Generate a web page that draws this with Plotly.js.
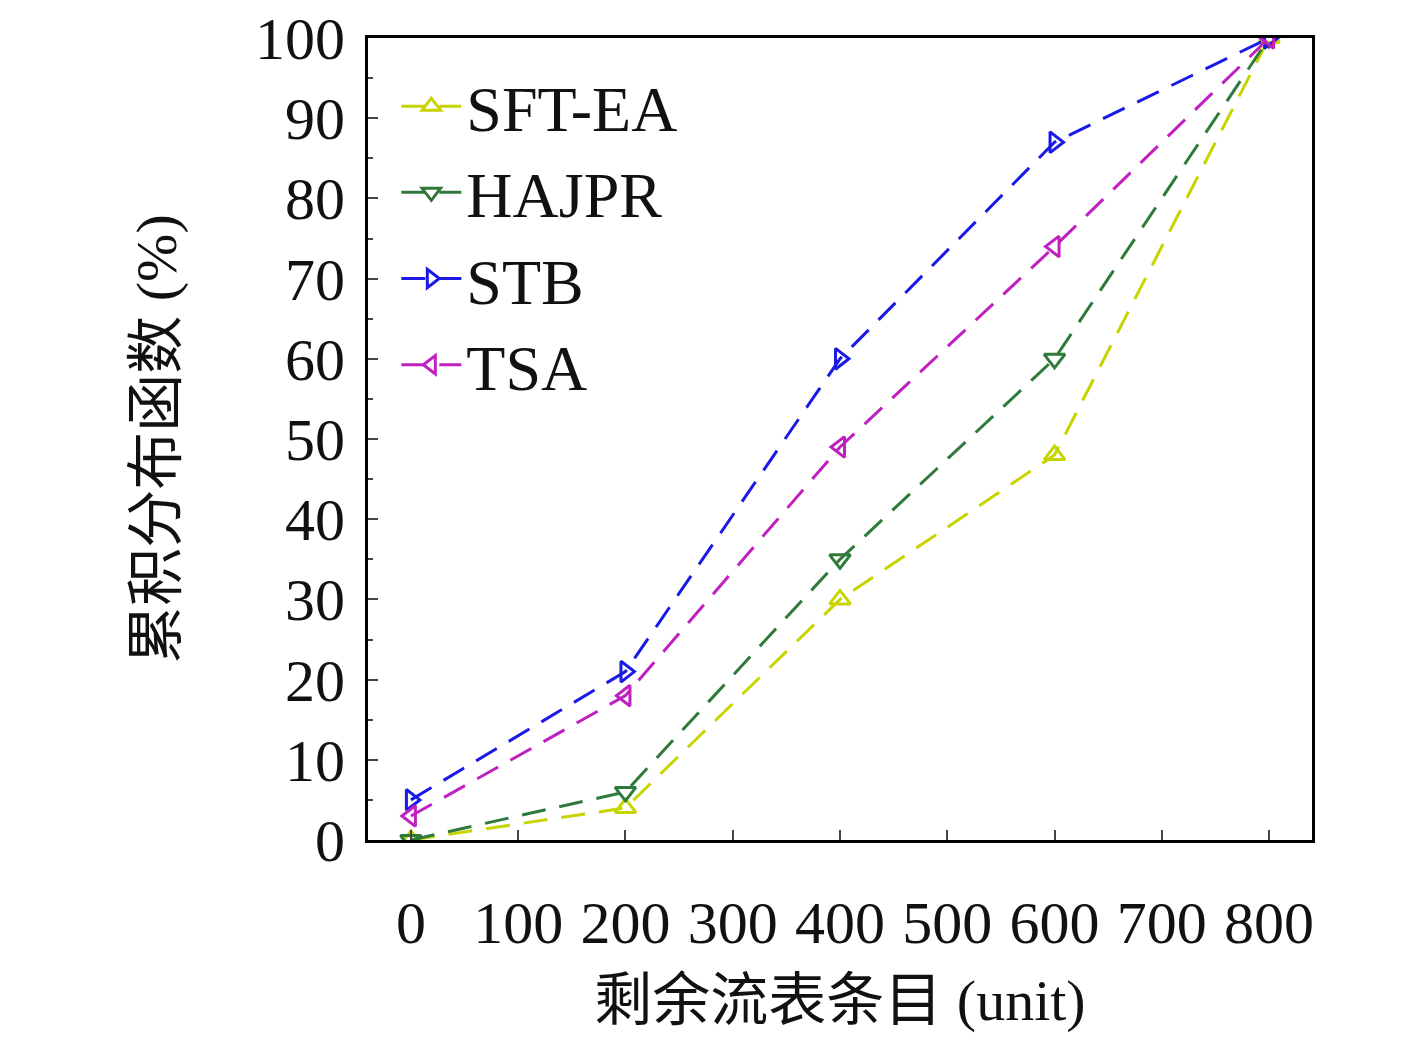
<!DOCTYPE html>
<html>
<head>
<meta charset="utf-8">
<script src="https://cdn.plot.ly/plotly-3.0.1.min.js"></script>
<style>body{margin:0;background:#fff}</style>
</head>
<body>
<div id="myDiv" style="width:1417px;height:1054px"></div>
<script>
var xs = [0, 200, 400, 600, 800];
var sftEA = [0, 4, 30, 48, 100];
var hajpr = [0, 6, 35, 60, 100];
var stb = [5, 21, 60, 87, 100];
var tsa = [3, 18, 49, 74, 100];

function series(name, y, color, symbol) {
  return {
    x: xs, y: y, name: name, type: 'scatter', mode: 'lines+markers',
    line: {color: color, width: 3, dash: '24px,14px'},
    marker: {symbol: symbol, size: 18, color: color, line: {color: color, width: 3}}
  };
}

var data = [
  series('SFT-EA', sftEA, '#c8d400', 'triangle-up-open'),
  series('HAJPR', hajpr, '#2f7a3a', 'triangle-down-open'),
  series('STB', stb, '#1a1ae6', 'triangle-right-open'),
  series('TSA', tsa, '#c020c0', 'triangle-left-open')
];

var font = 'Liberation Serif, Noto Sans CJK SC, serif';
var layout = {
  width: 1417, height: 1054,
  margin: {l: 368, r: 105, t: 38, b: 214},
  paper_bgcolor: '#fff', plot_bgcolor: '#fff',
  font: {family: font, size: 60, color: '#111'},
  showlegend: true,
  legend: {x: 0.03, y: 0.975, xanchor: 'left', yanchor: 'top', bgcolor: 'rgba(0,0,0,0)',
           font: {size: 64}, tracegroupgap: 0, itemwidth: 60},
  xaxis: {
    range: [-40, 840], tickvals: [0, 100, 200, 300, 400, 500, 600, 700, 800],
    ticks: 'inside', ticklen: 10, tickwidth: 2, showgrid: false, zeroline: false,
    showline: true, linewidth: 3, linecolor: '#000', mirror: true,
    ticklabelstandoff: 28,
    title: {text: '剩余流表条目 (unit)', font: {size: 58}, standoff: 25}
  },
  yaxis: {
    range: [0, 100], dtick: 10,
    ticks: 'inside', ticklen: 10, tickwidth: 2, showgrid: false, zeroline: false,
    showline: true, linewidth: 3, linecolor: '#000', mirror: true,
    minor: {dtick: 5, ticks: 'inside', ticklen: 5, tickwidth: 2},
    ticklabelstandoff: 8,
    title: {text: '累积分布函数 (%)', font: {size: 58}, standoff: 60}
  }
};

Plotly.newPlot('myDiv', data, layout, {displayModeBar: false});
</script>
</body>
</html>
